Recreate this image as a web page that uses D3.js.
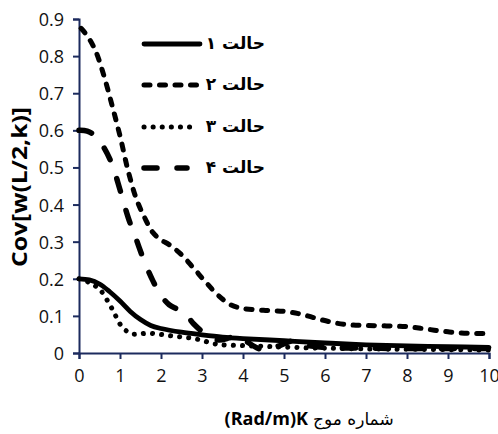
<!DOCTYPE html>
<html>
<head>
<meta charset="utf-8">
<script src="https://cdn.jsdelivr.net/npm/d3@7"></script>
<style>
  html, body { margin: 0; padding: 0; background: #fff; }
  svg { display: block; }
</style>
</head>
<body>
<script>
// Wave number k (rad/m) and covariance of w(L/2,k) for four cases
const k1 = [0, 0.25, 0.5, 0.75, 1, 1.25, 1.5, 1.75, 2, 2.5, 3, 3.5, 4, 5, 6, 7, 8, 9, 10];
const case1 = [0.2, 0.197, 0.186, 0.165, 0.14, 0.112, 0.09, 0.074, 0.066, 0.056, 0.049, 0.043, 0.039, 0.033, 0.027, 0.022, 0.019, 0.017, 0.015];

const k2 = [0.05, 0.2, 0.4, 0.6, 0.8, 1, 1.2, 1.4, 1.6, 1.8, 2, 2.2, 2.5, 2.8, 3.1, 3.4, 3.7, 4, 4.5, 5, 5.4, 5.8, 6.2, 6.6, 7, 7.5, 8, 8.5, 9, 9.5, 10];
const case2 = [0.875, 0.855, 0.815, 0.75, 0.67, 0.585, 0.49, 0.415, 0.365, 0.325, 0.305, 0.292, 0.265, 0.228, 0.19, 0.155, 0.13, 0.12, 0.115, 0.112, 0.105, 0.093, 0.082, 0.076, 0.074, 0.073, 0.071, 0.064, 0.057, 0.053, 0.053];

const k3 = [0, 0.25, 0.5, 0.7, 0.85, 1, 1.15, 1.3, 1.5, 1.75, 2, 2.25, 2.5, 2.75, 3, 3.25, 3.5, 4, 4.5, 5, 6, 7, 8, 9, 10];
const case3 = [0.2, 0.19, 0.172, 0.14, 0.11, 0.078, 0.06, 0.051, 0.052, 0.053, 0.05, 0.046, 0.043, 0.04, 0.034, 0.026, 0.022, 0.02, 0.018, 0.016, 0.013, 0.011, 0.01, 0.009, 0.008];

const k4 = [0, 0.2, 0.4, 0.6, 0.8, 1, 1.2, 1.4, 1.6, 1.8, 2, 2.2, 2.4, 2.6, 2.8, 3.1, 3.4, 3.7, 3.9, 4.1, 4.5, 4.9, 5.2, 5.6, 6, 7, 8, 9, 10];
const case4 = [0.6, 0.598, 0.585, 0.555, 0.51, 0.44, 0.365, 0.305, 0.245, 0.195, 0.155, 0.13, 0.118, 0.105, 0.078, 0.05, 0.035, 0.042, 0.046, 0.03, 0.008, 0.02, 0.032, 0.02, 0.015, 0.013, 0.012, 0.012, 0.012];

const legendLabels = ["حالت ۱", "حالت ۲", "حالت ۳", "حالت ۴"];
const xTicks = [0, 1, 2, 3, 4, 5, 6, 7, 8, 9, 10];
const yTicks = [0, 0.1, 0.2, 0.3, 0.4, 0.5, 0.6, 0.7, 0.8, 0.9];
const xTitleLatin = "(Rad/m)K";
const xTitlePersian = "شماره موج";
const yTitle = "Cov[w(L/2,k)]";

const W = 498, H = 434;
const margin = { left: 79, right: 9, top: 19, bottom: 81 };
const axisColor = "#1c2b5e";

const svg = d3.select("body").append("svg").attr("width", W).attr("height", H);

const x = d3.scaleLinear().domain([0, 10]).range([margin.left, W - margin.right]);
const y = d3.scaleLinear().domain([0, 0.9]).range([H - margin.bottom, margin.top]);

// axes
const xAxis = svg.append("g")
  .attr("transform", `translate(0,${y(0)})`)
  .call(d3.axisBottom(x).tickValues(xTicks).tickSize(6).tickPadding(10).tickFormat(d3.format("d")));
const yAxis = svg.append("g")
  .attr("transform", `translate(${x(0)},0)`)
  .call(d3.axisLeft(y).tickValues(yTicks).tickSize(6).tickPadding(9).tickFormat(d => d === 0 ? "0" : d3.format(".1f")(d)));

[xAxis, yAxis].forEach(g => {
  g.select(".domain").attr("stroke", axisColor).attr("stroke-width", 2);
  g.selectAll(".tick line").attr("stroke", axisColor).attr("stroke-width", 2);
  g.selectAll(".tick text")
    .attr("fill", "#111")
    .style("font-family", "'Open Sans', sans-serif")
    .style("font-size", "18px");
});
yAxis.selectAll(".tick text").attr("dy", "0.36em");

// series styles
const series = [
  { k: k1, v: case1, dash: null,      width: 4.8 },
  { k: k2, v: case2, dash: "6 9.5",   width: 5 },
  { k: k3, v: case3, dash: "0.1 9",   width: 5 },
  { k: k4, v: case4, dash: "13 20",   width: 5.5 }
];

const line = d3.line()
  .x(d => x(d[0]))
  .y(d => y(d[1]))
  .curve(d3.curveCatmullRom.alpha(0.5));

const plot = svg.append("g");
series.forEach(s => {
  plot.append("path")
    .datum(s.k.map((kk, i) => [kk, s.v[i]]))
    .attr("d", line)
    .attr("fill", "none")
    .attr("stroke", "#000")
    .attr("stroke-width", s.width)
    .attr("stroke-linecap", "round")
    .attr("stroke-linejoin", "round")
    .attr("stroke-dasharray", s.dash);
});

// legend
const legendY = [44, 85, 127, 168];
const legendEnd = [202, 200, 198, 189];
const legend = svg.append("g");
series.forEach((s, i) => {
  legend.append("line")
    .attr("x1", 144).attr("x2", legendEnd[i] - 2)
    .attr("y1", legendY[i]).attr("y2", legendY[i])
    .attr("stroke", "#000")
    .attr("stroke-width", s.width)
    .attr("stroke-linecap", "round")
    .attr("stroke-dasharray", s.dash);
  legend.append("text")
    .attr("x", 265).attr("y", legendY[i])
    .attr("dy", "0.3em")
    .attr("text-anchor", "end")
    .style("font-family", "'DejaVu Sans', sans-serif")
    .style("font-weight", "bold")
    .style("font-size", "17px")
    .text(legendLabels[i]);
});

// axis titles
svg.append("text")
  .attr("x", 308).attr("y", 425)
  .attr("text-anchor", "end")
  .style("font-family", "'Open Sans', sans-serif")
  .style("font-weight", "bold")
  .style("font-size", "18px")
  .text(xTitleLatin);
svg.append("text")
  .attr("x", 313).attr("y", 425)
  .attr("text-anchor", "start")
  .style("font-family", "'DejaVu Sans', sans-serif")
  .style("font-size", "17px")
  .text(xTitlePersian);

svg.append("text")
  .attr("transform", `translate(27,187) rotate(-90)`)
  .attr("text-anchor", "middle")
  .style("font-family", "'Open Sans', sans-serif")
  .style("font-weight", "bold")
  .style("font-size", "21px")
  .attr("textLength", 160)
  .attr("lengthAdjust", "spacingAndGlyphs")
  .text(yTitle);
</script>
</body>
</html>
